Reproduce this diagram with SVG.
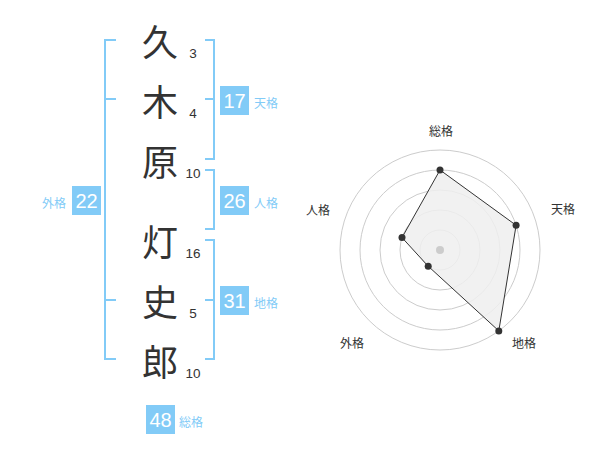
<svg xmlns="http://www.w3.org/2000/svg" width="600" height="470" viewBox="0 0 600 470">
<style>
.ch{font-family:"Noto Sans CJK JP","Noto Sans CJK SC",sans-serif;font-size:36px;fill:#333;text-anchor:middle;dominant-baseline:central}
.num{font-family:"Liberation Sans",Arial,sans-serif;font-size:13.5px;fill:#333;text-anchor:middle;dominant-baseline:central}
.br{fill:none;stroke:#82cbf7;stroke-width:2}
.box{fill:#82cbf7}
.bn{font-family:"Liberation Sans",Arial,sans-serif;font-size:20px;fill:#fff;text-anchor:middle;dominant-baseline:central}
.bl{font-family:"Noto Sans CJK JP","Noto Sans CJK SC",sans-serif;font-size:12px;fill:#82cbf7;dominant-baseline:central}
.ring{fill:none;stroke:#ccc;stroke-width:1}
.rl{font-family:"Noto Sans CJK JP","Noto Sans CJK SC",sans-serif;font-size:12px;fill:#333;text-anchor:middle;dominant-baseline:central}
.pt{fill:#333}
</style>
<g id="name-chars">
<text class="ch" x="160" y="40">久</text>
<text class="ch" x="160" y="100">木</text>
<text class="ch" x="160" y="160">原</text>
<text class="ch" x="160" y="240">灯</text>
<text class="ch" x="160" y="300">史</text>
<text class="ch" x="160" y="360">郎</text>
</g>
<g id="stroke-counts">
<text class="num" x="193" y="53">3</text>
<text class="num" x="193" y="113">4</text>
<text class="num" x="193" y="173">10</text>
<text class="num" x="193" y="253">16</text>
<text class="num" x="193" y="313">5</text>
<text class="num" x="193" y="373">10</text>
</g>
<g id="connectors">
<path class="br" d="M116,40 H105 V359 H116 M105,99 H116 M105,300 H116"/>
<path class="br" d="M205,40 H214 V159 H205 M205,99 H214"/>
<path class="br" d="M205,170 H214 V229 H205"/>
<path class="br" d="M205,240 H214 V359 H205 M205,300 H214"/>
</g>
<g id="tenkaku">
<rect class="box" x="220" y="86" width="29" height="29"/>
<text class="bn" x="234.5" y="101">17</text>
<text class="bl" x="254" y="102">天格</text>
</g>
<g id="jinkaku">
<rect class="box" x="220" y="186" width="29" height="29"/>
<text class="bn" x="234.5" y="201">26</text>
<text class="bl" x="254" y="202">人格</text>
</g>
<g id="chikaku">
<rect class="box" x="220" y="286" width="29" height="29"/>
<text class="bn" x="234.5" y="301">31</text>
<text class="bl" x="254" y="302">地格</text>
</g>
<g id="gaikaku">
<rect class="box" x="72" y="186" width="29" height="29"/>
<text class="bn" x="86.5" y="201">22</text>
<text class="bl" x="42" y="202">外格</text>
</g>
<g id="soukaku">
<rect class="box" x="146" y="405" width="29" height="29"/>
<text class="bn" x="160.5" y="420">48</text>
<text class="bl" x="179" y="421">総格</text>
</g>
<g id="radar">
<circle class="ring" cx="440" cy="250" r="20"/>
<circle class="ring" cx="440" cy="250" r="40"/>
<circle class="ring" cx="440" cy="250" r="60"/>
<circle class="ring" cx="440" cy="250" r="80"/>
<circle class="ring" cx="440" cy="250" r="100"/>
<polygon points="440,170 516.1,225.3 498.8,330.9 428.2,266.2 402,237.6" fill="#eee" fill-opacity="0.85" stroke="#333" stroke-width="1"/>
<circle cx="440" cy="250" r="4" fill="#ccc"/>
<circle class="pt" cx="440" cy="170" r="3.5"/>
<circle class="pt" cx="516.1" cy="225.3" r="3.5"/>
<circle class="pt" cx="498.8" cy="330.9" r="3.5"/>
<circle class="pt" cx="428.2" cy="266.2" r="3.5"/>
<circle class="pt" cx="402" cy="237.6" r="3.5"/>
<text class="rl" x="441" y="130">総格</text>
<text class="rl" x="563" y="208">天格</text>
<text class="rl" x="318" y="209">人格</text>
<text class="rl" x="352" y="342">外格</text>
<text class="rl" x="524" y="342">地格</text>
</g>
</svg>
